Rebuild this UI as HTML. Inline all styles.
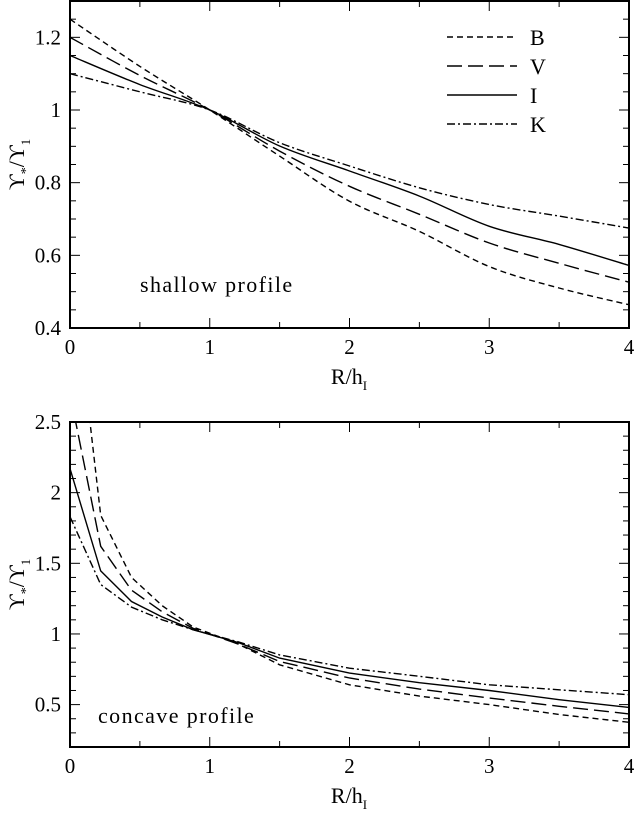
<!DOCTYPE html>
<html><head><meta charset="utf-8"><style>
html,body{margin:0;padding:0;background:#fff;}
svg{display:block;font-family:"Liberation Serif","DejaVu Serif",serif;}
</style></head><body>
<svg id="chart" width="634" height="813" viewBox="0 0 634 813">
</svg>
<script>
const bands = ['B','V','I','K'];
const topR = [0,0.5,1,1.5,2,2.5,3,3.5,4];
const topB = [1.25,1.12,1.0,0.873,0.749,0.666,0.569,0.51,0.464];
const topV = [1.2,1.095,1.0,0.887,0.79,0.713,0.634,0.578,0.526];
const topI = [1.15,1.07,1.0,0.901,0.832,0.763,0.68,0.63,0.572];
const topK = [1.1,1.05,1.0,0.91,0.846,0.786,0.74,0.708,0.675];
const botR = [0,0.22,0.44,0.66,0.88,1.2,1.5,2,2.5,3,3.5,4];
const botB = [3.73,1.84,1.40,1.2,1.05,0.93,0.782,0.64,0.56,0.5,0.43,0.375];
const botV = [2.7,1.62,1.31,1.157,1.04,0.93,0.805,0.688,0.61,0.547,0.488,0.434];
const botI = [2.17,1.446,1.23,1.12,1.03,0.94,0.829,0.723,0.655,0.60,0.535,0.48];
const botK = [1.83,1.35,1.19,1.1,1.03,0.945,0.852,0.758,0.70,0.64,0.605,0.57];
const xTicks = [0,1,2,3,4];
const topYTicks = [0.4,0.6,0.8,1,1.2];
const botYTicks = [0.5,1,1.5,2,2.5];

const NS='http://www.w3.org/2000/svg';
const svg=document.getElementById('chart');
const dashes={B:'6,4',V:'15,6',I:'none',K:'8,3,2,3'};
function mk(tag,attrs,parent){const e=document.createElementNS(NS,tag);for(const k in attrs)e.setAttribute(k,attrs[k]);(parent||svg).appendChild(e);return e;}
const X0=70,X1=629;
function xs(r){return X0+(X1-X0)*r/4;}
function smoothPath(pts){
  let d='M'+pts[0][0].toFixed(1)+','+pts[0][1].toFixed(1);
  for(let i=0;i<pts.length-1;i++){
    const p0=pts[i-1]||pts[i],p1=pts[i],p2=pts[i+1],p3=pts[i+2]||p2;
    const c1=[p1[0]+(p2[0]-p0[0])/6,p1[1]+(p2[1]-p0[1])/6];
    const c2=[p2[0]-(p3[0]-p1[0])/6,p2[1]-(p3[1]-p1[1])/6];
    d+=' C'+c1[0].toFixed(1)+','+c1[1].toFixed(1)+' '+c2[0].toFixed(1)+','+c2[1].toFixed(1)+' '+p2[0].toFixed(1)+','+p2[1].toFixed(1);
  }
  return d;
}

function panel(name,top,bot,vmin,vmax,yTicks,minorStep,series,R,label,lx,ly,legend,smooth){
  const g=mk('g',{});
  
  
  const ys=v=>bot-(v-vmin)/(vmax-vmin)*(bot-top);
  const clipId='clip-'+name;
  const cp=mk('clipPath',{id:clipId},g);
  mk('rect',{x:X0,y:top,width:X1-X0,height:bot-top},cp);
  for(let v=Math.ceil(vmin/minorStep-1e-6)*minorStep; v<=vmax+1e-6; v+=minorStep){
    const y=ys(v);
    const major=yTicks.some(t=>Math.abs(t-v)<1e-6);
    const L=major?10:6;
    mk('line',{x1:X0,y1:y,x2:X0+L,y2:y,stroke:'#000','stroke-width':1},g);
    mk('line',{x1:X1,y1:y,x2:X1-L,y2:y,stroke:'#000','stroke-width':1},g);
  }
  for(let r=0;r<=4.001;r+=0.5){
    const x=xs(r);const L=(Math.abs(r-Math.round(r))<1e-6)?10:6;
    mk('line',{x1:x,y1:bot,x2:x,y2:bot-L,stroke:'#000','stroke-width':1},g);
    mk('line',{x1:x,y1:top,x2:x,y2:top+L,stroke:'#000','stroke-width':1},g);
  }
  yTicks.forEach(v=>{
    const t=mk('text',{x:61,y:ys(v)+7,'text-anchor':'end','font-size':21},g);
    t.textContent=String(v);
    
    
  });
  xTicks.forEach(v=>{
    const t=mk('text',{x:xs(v),y:bot+26,'text-anchor':'middle','font-size':21},g);
    t.textContent=String(v);
    
    
  });
  const box=mk('rect',{x:X0,y:top,width:X1-X0,height:bot-top,fill:'none',stroke:'#000','stroke-width':2},g);
  
  
  const sg=mk('g',{'clip-path':'url(#'+clipId+')'},g);
  series.forEach((vals,i)=>{
    const b=bands[i];
    const pts=vals.map((v,j)=>[xs(R[j]),ys(v)]);
    const d=smooth?smoothPath(pts):pts.map((p,j)=>(j?'L':'M')+p[0].toFixed(1)+','+p[1].toFixed(1)).join(' ');
    const p=mk('path',{d:d,fill:'none',stroke:'#000','stroke-width':1.4,'stroke-dasharray':dashes[b]},sg);
    
    
  });
  const lab=mk('text',{x:lx,y:ly,'font-size':22,'letter-spacing':'1.4'},g);
  lab.textContent=label;
  
  
  const xt=mk('text',{x:349,y:bot+56,'text-anchor':'middle','font-size':22},g);
  xt.innerHTML='R/h<tspan font-size="13" dy="6">I</tspan>';
  
  
  const cy=(top+bot)/2;
  const yt=mk('text',{x:0,y:0,'text-anchor':'middle','font-size':22,transform:'translate(24,'+cy+') rotate(-90)'},g);
  yt.innerHTML='ϒ<tspan font-size="14" dy="6">*</tspan><tspan dy="-6">/ϒ</tspan><tspan font-size="13" dy="6">1</tspan>';
  
  
  if(legend){
    const lg=mk('g',{},g);
    
    
    bands.forEach((b,i)=>{
      const y=37+i*29;
      const ln=mk('line',{x1:447,y1:y,x2:517,y2:y,stroke:'#000','stroke-width':1.4,'stroke-dasharray':dashes[b]},lg);
      
      
      const t=mk('text',{x:530,y:y+8,'font-size':22},lg);
      t.textContent=b;
      
      
    });
  }
}
panel('top-panel',1,328,0.4,1.3,topYTicks,0.05,[topB,topV,topI,topK],topR,'shallow profile',140,292,true,true);
panel('bottom-panel',422,747,0.2,2.5,botYTicks,0.1,[botB,botV,botI,botK],botR,'concave profile',98,723,false,false);
</script>
</body></html>
